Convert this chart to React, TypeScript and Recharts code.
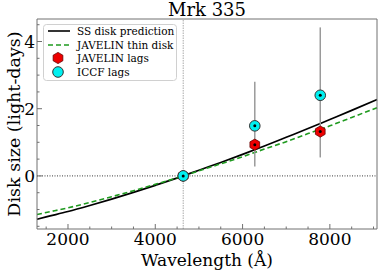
import React from 'react';
import {
  ComposedChart,
  Line,
  Scatter,
  ErrorBar,
  XAxis,
  YAxis,
  ReferenceLine,
  Legend,
} from 'recharts';

// model curves
const lambdas = [1290, 1500, 2000, 2500, 3000, 3500, 4000, 4640, 5000, 5500, 6000, 6500, 7000, 7500, 8000, 8500, 9080];
const ssDisk = [-1.29, -1.22, -1.06, -0.88, -0.69, -0.49, -0.28, 0, 0.17, 0.4, 0.64, 0.89, 1.15, 1.41, 1.68, 1.95, 2.27];
const javDisk = [-1.15, -1.09, -0.95, -0.79, -0.62, -0.44, -0.25, 0, 0.15, 0.36, 0.57, 0.8, 1.02, 1.26, 1.49, 1.74, 2.03];

// lags
const lagLambdas = [4640, 6280, 7780];
const iccfLags = [0, 1.49, 2.4];
const iccfErrLow = [0, 1.21, 1.85];
const iccfErrHigh = [0, 1.31, 2.02];
const javLags = [0, 0.93, 1.32];

const xTicks = [1500, 2000, 2500, 3000, 3500, 4000, 4500, 5000, 5500, 6000, 6500, 7000, 7500, 8000, 8500, 9000];
const yTicks = [-1.5, -1, -0.5, 0, 0.5, 1, 1.5, 2, 2.5, 3, 3.5, 4, 4.5];
const xDomain = [1290, 9080];
const yDomain = [-1.58, 4.67];

const curveData = lambdas.map((lam, i) => ({ lam, ss: ssDisk[i], jav: javDisk[i] }));
const iccfData = lagLambdas.map((lam, i) => ({ lam, tau: iccfLags[i], err: [iccfErrLow[i], iccfErrHigh[i]] }));
const javData = lagLambdas.map((lam, i) => ({ lam, tau: javLags[i] }));

const FONT = '"DejaVu Serif", serif';
const SPINE = '#707070';

const hexPath = (cx: number, cy: number, r: number) => {
  const pts = [];
  for (let k = 0; k < 6; k++) {
    const a = (Math.PI / 3) * k - Math.PI / 2;
    pts.push(`${cx + r * Math.cos(a)},${cy + r * Math.sin(a)}`);
  }
  return `M${pts.join('L')}Z`;
};

const NoDot = () => <g />;

const IccfDot = (props: any) => {
  const { cx, cy } = props;
  return (
    <g>
      <circle cx={cx} cy={cy} r={5.3} fill="#00f0f0" stroke="#333" strokeWidth={1} />
      <circle cx={cx} cy={cy} r={1.5} fill="#000" />
    </g>
  );
};

const JavDot = (props: any) => {
  const { cx, cy } = props;
  return (
    <g>
      <path d={hexPath(cx, cy, 5.6)} fill="#ee0000" stroke="#600" strokeWidth={0.8} />
      <circle cx={cx} cy={cy} r={1.5} fill="#000" />
    </g>
  );
};

const BottomTick = (props: any) => {
  const { x, y, payload } = props;
  const v = payload.value;
  const major = v % 2000 === 0;
  return (
    <g>
      <line x1={x} x2={x} y1={y} y2={y - (major ? 5 : 2.5)} stroke={SPINE} />
      {major && (
        <text x={x} y={y + 16} textAnchor="middle" fontSize={17} fontFamily={FONT} fill="#000">
          {v}
        </text>
      )}
    </g>
  );
};

const TopTick = (props: any) => {
  const { x, y, payload } = props;
  const major = payload.value % 2000 === 0;
  return <line x1={x} x2={x} y1={y} y2={y + (major ? 5 : 2.5)} stroke={SPINE} />;
};

const LeftTick = (props: any) => {
  const { x, y, payload } = props;
  const v = payload.value;
  const major = v % 2 === 0;
  return (
    <g>
      <line x1={x} x2={x + (major ? 5 : 2.5)} y1={y} y2={y} stroke={SPINE} />
      {major && (
        <text x={x - 2} y={y + 6} textAnchor="end" fontSize={17} fontFamily={FONT} fill="#000">
          {v}
        </text>
      )}
    </g>
  );
};

const RightTick = (props: any) => {
  const { x, y, payload } = props;
  const major = payload.value % 2 === 0;
  return <line x1={x} x2={x - (major ? 5 : 2.5)} y1={y} y2={y} stroke={SPINE} />;
};

const legendItems = ['SS disk prediction', 'JAVELIN thin disk', 'JAVELIN lags', 'ICCF lags'];

const renderLegend = () => (
  <svg width={134} height={57} style={{ display: 'block' }}>
    <rect x={0.5} y={0.5} width={133} height={56} rx={3} fill="#fff" fillOpacity={0.85} stroke="#d0d0d0" />
    <line x1={5} x2={27} y1={7} y2={7} stroke="#000" strokeWidth={1.6} />
    <line x1={5} x2={27} y1={21} y2={21} stroke="#1f9a1f" strokeWidth={1.6} strokeDasharray="5 3" />
    <path d={hexPath(15, 34, 5.6)} fill="#ee0000" stroke="#600" strokeWidth={0.8} />
    <circle cx={15} cy={48} r={5.3} fill="#00f0f0" stroke="#333" strokeWidth={1} />
    {legendItems.map((t, i) => (
      <text key={t} x={34} y={[7, 21, 34, 48][i] + 3.8} fontSize={10.5} fontFamily={FONT} fill="#000">
        {t}
      </text>
    ))}
  </svg>
);

export default function App() {
  return (
    <div style={{ position: 'absolute', left: 0, top: 0, width: 382, height: 273, background: '#fff' }}>
      <div
        style={{
          position: 'absolute',
          left: 37,
          width: 340,
          top: 0,
          textAlign: 'center',
          fontFamily: FONT,
          fontSize: 18,
          lineHeight: '20px',
          zIndex: 2,
        }}
      >
        Mrk 335
      </div>
      <ComposedChart width={382} height={273} margin={{ top: 18, right: 4, bottom: 0, left: 0 }}>
        <XAxis
          dataKey="lam"
          type="number"
          domain={xDomain}
          ticks={xTicks}
          interval={0}
          tick={<BottomTick />}
          tickSize={0}
          tickMargin={0}
          tickLine={false}
          axisLine={{ stroke: SPINE }}
          height={44}
          label={(p: any) => {
            const vb = p.viewBox;
            return (
              <text x={vb.x + vb.width / 2} y={vb.y + 37} textAnchor="middle" fontSize={17} fontFamily={FONT} fill="#000">
                Wavelength (Å)
              </text>
            );
          }}
        />
        <XAxis
          xAxisId="top"
          orientation="top"
          type="number"
          domain={xDomain}
          ticks={xTicks}
          interval={0}
          tick={<TopTick />}
          tickSize={0}
          tickMargin={0}
          tickLine={false}
          axisLine={{ stroke: SPINE }}
          height={1}
        />
        <YAxis
          type="number"
          domain={yDomain}
          ticks={yTicks}
          interval={0}
          tick={<LeftTick />}
          tickSize={0}
          tickMargin={0}
          tickLine={false}
          axisLine={{ stroke: SPINE }}
          width={37}
          label={(p: any) => {
            const vb = p.viewBox;
            const cx = 14;
            const cy = vb.y + vb.height / 2;
            return (
              <text
                x={cx}
                y={cy}
                transform={`rotate(-90 ${cx} ${cy})`}
                textAnchor="middle"
                dominantBaseline="central"
                fontSize={17.5}
                fontFamily={FONT}
                fill="#000"
              >
                Disk size (light-days)
              </text>
            );
          }}
        />
        <YAxis
          yAxisId="right"
          orientation="right"
          type="number"
          domain={yDomain}
          ticks={yTicks}
          interval={0}
          tick={<RightTick />}
          tickSize={0}
          tickMargin={0}
          tickLine={false}
          axisLine={{ stroke: SPINE }}
          width={1}
        />
        <ReferenceLine x={4640} stroke="#aaa" strokeWidth={1} strokeDasharray="1.5 1" />
        <ReferenceLine y={0} stroke="#222" strokeWidth={0.9} strokeDasharray="1 1.5" />
        <Line
          data={curveData}
          dataKey="ss"
          type="monotone"
          stroke="#000"
          strokeWidth={1.7}
          dot={false}
          isAnimationActive={false}
        />
        <Line
          data={curveData}
          dataKey="jav"
          type="monotone"
          stroke="#1f9a1f"
          strokeWidth={1.6}
          strokeDasharray="5 3"
          dot={false}
          isAnimationActive={false}
        />
        {/* error bars first so the markers sit on top */}
        <Scatter data={iccfData} dataKey="tau" shape={<NoDot />} isAnimationActive={false}>
          <ErrorBar dataKey="err" direction="y" width={0} stroke="#9a9a9a" strokeWidth={1.5} />
        </Scatter>
        <Scatter data={javData} dataKey="tau" shape={<JavDot />} isAnimationActive={false} />
        <Scatter data={iccfData} dataKey="tau" shape={<IccfDot />} isAnimationActive={false} />
        <Legend
          content={renderLegend}
          layout="horizontal"
          verticalAlign="middle"
          align="center"
          wrapperStyle={{ left: 43, top: 24, width: 134, height: 57 }}
        />
      </ComposedChart>
    </div>
  );
}
